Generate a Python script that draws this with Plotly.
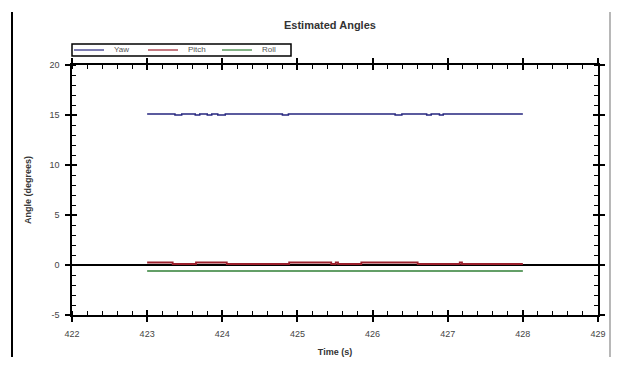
import plotly.graph_objects as go

# ---- data ----
yaw_t = [423.0, 423.37, 423.46, 423.64, 423.70, 423.80, 423.86, 423.94, 424.04,
         424.80, 424.88, 426.30, 426.39, 426.72, 426.78, 426.89, 426.94, 428.0]
yaw_v = [15.1, 15.0, 15.1, 15.0, 15.1, 15.0, 15.1, 15.0, 15.1,
         15.0, 15.1, 15.0, 15.1, 15.0, 15.1, 15.0, 15.1, 15.1]

pitch_t = [423.0, 423.34, 423.65, 424.06, 424.89, 425.45, 425.51, 425.54,
           425.85, 426.60, 427.16, 427.19, 428.0]
pitch_v = [0.25, 0.1, 0.25, 0.1, 0.25, 0.1, 0.25, 0.1,
           0.25, 0.1, 0.25, 0.1, 0.1]

roll_t = [423.0, 428.0]
roll_v = [-0.6, -0.6]

series_names = ["Yaw", "Pitch", "Roll"]
series_colors = ["#26267f", "#9a1f2c", "#2f7f35"]

x_ticks = [422, 423, 424, 425, 426, 427, 428, 429]
y_ticks = [-5, 0, 5, 10, 15, 20]

FONT = "Liberation Sans, Arial, sans-serif"

fig = go.Figure()
for (t, v), name, col, w in zip([(yaw_t, yaw_v), (pitch_t, pitch_v), (roll_t, roll_v)],
                                series_names, series_colors, [1.5, 1.8, 1.5]):
    fig.add_trace(go.Scatter(x=t, y=v, name=name, mode="lines", showlegend=False,
                             line=dict(color=col, width=w, shape="hv")))
# invisible trace to activate the overlay axes (inner major ticks)
fig.add_trace(go.Scatter(x=[422], y=[-5], xaxis="x2", yaxis="y2", mode="markers",
                         marker=dict(opacity=0), showlegend=False, hoverinfo="skip"))

axis_common = dict(showgrid=False, showline=True, linecolor="black", linewidth=1.5,
                   ticks="outside", ticklen=5, tickwidth=1.5, tickcolor="black",
                   mirror="allticks",
                   tickfont=dict(family=FONT, size=9, color="#444"))

fig.update_layout(
    width=603, height=349,
    margin=dict(l=64, r=13, t=57, b=42, autoexpand=False),
    paper_bgcolor="white", plot_bgcolor="white",
    font=dict(family=FONT, size=9, color="#333"),
    xaxis=dict(range=[422, 429], tickvals=x_ticks, ticktext=[str(v) for v in x_ticks],
               minor=dict(dtick=0.2, ticks="inside", ticklen=4, tickwidth=1.2, tickcolor="black"),
               title=dict(text="<b>Time (s)</b>", font=dict(family=FONT, size=9, color="#333"),
                          standoff=12),
               ticklabelstandoff=4,
               zeroline=False, automargin=False, **axis_common),
    yaxis=dict(range=[-5, 20], tickvals=y_ticks, ticktext=[str(v) for v in y_ticks],
               minor=dict(dtick=1, ticks="inside", ticklen=4, tickwidth=1.2, tickcolor="black"),
               title=dict(text="<b>Angle (degrees)</b>", font=dict(family=FONT, size=9, color="#333"),
                          standoff=16),
               ticklabelstandoff=4,
               zeroline=True, zerolinecolor="black", zerolinewidth=1.5, automargin=False,
               **axis_common),
    xaxis2=dict(overlaying="x", range=[422, 429], tickvals=x_ticks, showticklabels=False,
                ticks="inside", ticklen=5, tickwidth=1.5, tickcolor="black",
                showgrid=False, zeroline=False, showline=False, side="bottom", mirror="allticks"),
    yaxis2=dict(overlaying="y", range=[-5, 20], tickvals=y_ticks, showticklabels=False,
                ticks="inside", ticklen=5, tickwidth=1.5, tickcolor="black",
                showgrid=False, zeroline=False, showline=False, side="left", mirror="allticks"),
    showlegend=False,
)

# ---- helpers: screen pixel -> paper coords ----
def px_x(p):
    return (p - 72) / 526.0

def px_y(p):
    return (315 - p) / 250.0

# title
fig.add_annotation(text="<b>Estimated Angles</b>", xref="paper", yref="paper",
                   x=px_x(330), y=px_y(25), xanchor="center", yanchor="middle",
                   showarrow=False, font=dict(family=FONT, size=11, color="#333"))

# ---- compact legend ----
fig.add_shape(type="rect", xref="paper", yref="paper",
              x0=px_x(72), x1=px_x(291), y0=px_y(56), y1=px_y(44),
              line=dict(color="black", width=1.5), fillcolor="white")
line_starts = [74, 148, 222]
for name, col, xs in zip(series_names, series_colors, line_starts):
    fig.add_shape(type="line", xref="paper", yref="paper",
                  x0=px_x(xs), x1=px_x(xs + 30), y0=px_y(50), y1=px_y(50),
                  line=dict(color=col, width=1.2))
    fig.add_annotation(text=name, xref="paper", yref="paper", x=px_x(xs + 38), y=px_y(50),
                       xanchor="left", yanchor="middle", showarrow=False,
                       font=dict(family=FONT, size=8, color="#555"))

# page frame lines
fig.add_shape(type="line", xref="paper", yref="paper", x0=px_x(12), x1=px_x(12),
              y0=px_y(12), y1=px_y(372), line=dict(color="black", width=2))
fig.add_shape(type="line", xref="paper", yref="paper", x0=px_x(610), x1=px_x(610),
              y0=px_y(12), y1=px_y(372), line=dict(color="#888", width=1.2))

fig.write_html("out.html")
